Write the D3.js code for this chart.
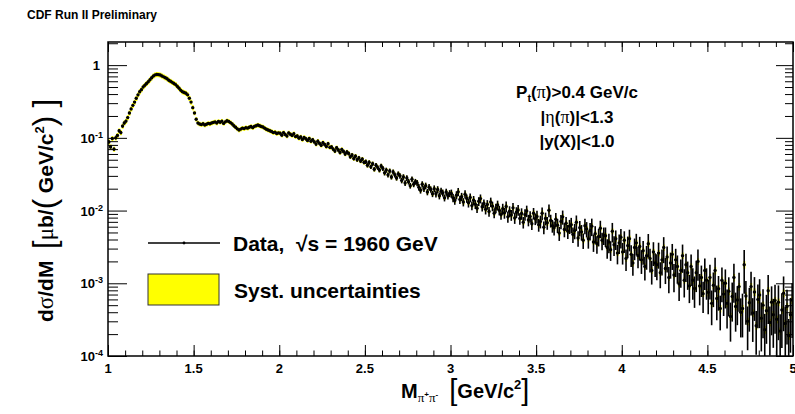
<!DOCTYPE html>
<html>
<head>
<meta charset="utf-8">
<script src="https://cdn.jsdelivr.net/npm/d3@7"></script>
<style>
body { margin: 0; background: #fff; }
svg text { font-family: "Liberation Sans", Arial, Helvetica, sans-serif; font-weight: bold; fill: #000; white-space: pre; }
svg .greek { font-family: "Liberation Serif", "DejaVu Serif", serif; font-weight: normal; }
svg .thin { font-weight: normal; }
</style>
</head>
<body>
<div id="chart"></div>
<script>
// histogram binning (GeV/c^2)
var massLo = 1.0;
var massHi = 5.0;
var binW = 0.01;

var xTicks = [1, 1.5, 2, 2.5, 3, 3.5, 4, 4.5, 5];
var xTickLabels = ["1", "1.5", "2", "2.5", "3", "3.5", "4", "4.5", "5"];
var yDecades = [-4, -3, -2, -1, 0];

// dsigma/dM in ub/(GeV/c^2), one value per 10 MeV bin
var yields = [
  0.088, 0.075, 0.098, 0.07, 0.1, 0.108, 0.125, 0.118, 0.145, 0.16,
  0.17, 0.19, 0.22, 0.25, 0.28, 0.31, 0.35, 0.39, 0.43, 0.46,
  0.5, 0.53, 0.56, 0.59, 0.63, 0.67, 0.71, 0.735, 0.745, 0.74,
  0.73, 0.71, 0.69, 0.67, 0.65, 0.62, 0.6, 0.58, 0.56, 0.54,
  0.51, 0.48, 0.45, 0.43, 0.42, 0.41, 0.39, 0.35, 0.31, 0.26,
  0.22, 0.18, 0.16, 0.155, 0.152, 0.156, 0.15, 0.154, 0.158, 0.156,
  0.16, 0.163, 0.166, 0.16, 0.168, 0.164, 0.17, 0.158, 0.166, 0.172,
  0.168, 0.162, 0.155, 0.147, 0.14, 0.133, 0.128, 0.132, 0.136, 0.134,
  0.138, 0.136, 0.14, 0.143, 0.138, 0.144, 0.147, 0.15, 0.147, 0.143,
  0.141, 0.136, 0.131, 0.128, 0.125, 0.122, 0.118, 0.12, 0.115, 0.117,
  0.116, 0.109, 0.118, 0.111, 0.106, 0.117, 0.112, 0.108, 0.114, 0.104,
  0.106, 0.099, 0.103, 0.095, 0.101, 0.097, 0.092, 0.098, 0.09, 0.094,
  0.088, 0.082, 0.09, 0.084, 0.079, 0.086, 0.081, 0.076, 0.083, 0.074,
  0.075, 0.07, 0.066, 0.073, 0.068, 0.063, 0.069, 0.065, 0.06, 0.064,
  0.061, 0.055, 0.058, 0.052, 0.056, 0.05, 0.053, 0.048, 0.051, 0.046,
  0.047, 0.042, 0.046, 0.04, 0.044, 0.037, 0.042, 0.039, 0.036, 0.041,
  0.038, 0.033, 0.036, 0.031, 0.035, 0.029, 0.034, 0.031, 0.028, 0.032,
  0.03, 0.026, 0.029, 0.024, 0.028, 0.025, 0.022, 0.027, 0.023, 0.025,
  0.024, 0.021, 0.019, 0.023, 0.02, 0.022, 0.018, 0.021, 0.0195, 0.017,
  0.02, 0.017, 0.0195, 0.016, 0.0185, 0.0175, 0.015, 0.018, 0.016, 0.0172,
  0.0172, 0.0149, 0.0138, 0.0163, 0.0181, 0.0142, 0.0155, 0.0131, 0.0168, 0.0147,
  0.0128, 0.0151, 0.0117, 0.0139, 0.0122, 0.0108, 0.0134, 0.0146, 0.0113, 0.0125,
  0.0104, 0.0121, 0.0097, 0.0131, 0.0115, 0.0092, 0.0108, 0.0119, 0.0101, 0.0088,
  0.0106, 0.0093, 0.0114, 0.0082, 0.0098, 0.0087, 0.0109, 0.0079, 0.0095, 0.0102,
  0.0078, 0.0091, 0.0069, 0.0088, 0.0099, 0.0074, 0.0083, 0.0066, 0.0092, 0.0077,
  0.0083, 0.0064, 0.0071, 0.0092, 0.0059, 0.0078, 0.0068, 0.0101, 0.0073, 0.0062,
  0.0058, 0.0076, 0.0063, 0.0049, 0.0071, 0.0082, 0.0055, 0.0067, 0.0052, 0.0061,
  0.0064, 0.0047, 0.0053, 0.0069, 0.0042, 0.0058, 0.0051, 0.0039, 0.0062, 0.0056,
  0.0041, 0.0053, 0.0061, 0.0037, 0.0048, 0.0035, 0.0044, 0.0057, 0.0039, 0.0046,
  0.0045, 0.0031, 0.0037, 0.0029, 0.0052, 0.0034, 0.0041, 0.0026, 0.0036, 0.0043,
  0.0027, 0.0039, 0.0022, 0.0033, 0.0041, 0.0025, 0.0019, 0.0031, 0.0036, 0.0024,
  0.0032, 0.0021, 0.0028, 0.0017, 0.0024, 0.0035, 0.0022, 0.0015, 0.0027, 0.0019,
  0.0018, 0.0026, 0.0014, 0.0021, 0.0031, 0.0016, 0.0023, 0.0012, 0.0019, 0.0025,
  0.0013, 0.0021, 0.0017, 0.00098, 0.0015, 0.0024, 0.0011, 0.0018, 0.0014, 0.00092,
  0.0017, 0.0011, 0.00085, 0.0014, 0.002, 0.00092, 0.0012, 0.00072, 0.0015, 0.0011,
  0.00075, 0.0012, 0.00053, 0.00094, 0.0015, 0.00062, 0.00084, 0.00045, 0.0011, 0.00071,
  0.001, 0.00053, 0.00078, 0.00035, 0.00066, 0.0012, 0.00048, 0.00059, 0.0009, 0.0004,
  0.00045, 0.0018, 0.00067, 0.0003, 0.00054, 0.0009, 0.00039, 0.00076, 0.00026, 0.0006,
  0.00069, 0.00033, 0.0005, 0.00023, 0.00042, 0.00079, 0.00029, 0.00055, 0.00037, 0.00058,
  0.00032, 0.00055, 0.00022, 0.00043, 0.00073, 0.00028, 0.00048, 0.00019, 0.00037, 0.00059
];

// relative stat. error, one entry per 100 MeV
var statRel = [
  0.05, 0.04, 0.03, 0.02, 0.02, 0.03, 0.03, 0.03, 0.03, 0.035,
  0.04, 0.045, 0.05, 0.055, 0.06, 0.07, 0.08, 0.09, 0.1, 0.11,
  0.13, 0.14, 0.15, 0.17, 0.18, 0.2, 0.22, 0.24, 0.27, 0.3,
  0.33, 0.36, 0.39, 0.42, 0.46, 0.5, 0.55, 0.6, 0.65, 0.7
];
// relative syst. error, one entry per 500 MeV
var systRel = [0.08, 0.07, 0.07, 0.07, 0.08, 0.09, 0.1, 0.12];

var W = 795, H = 414;
var padL = 108, padR = 793, padT = 42, padB = 356;

var svg = d3.select("#chart").append("svg")
  .attr("width", W)
  .attr("height", H)
  .style("display", "block");

svg.append("rect").attr("width", W).attr("height", H).attr("fill", "#fff");

var x = d3.scaleLinear().domain([massLo, massHi]).range([padL, padR]);
var y = d3.scaleLog().domain([1e-4, 2.08]).range([padB, padT]);

var bins = yields.map(function(v, i) {
  var lo = massLo + i * binW;
  return {
    lo: lo,
    c: lo + binW / 2,
    v: v,
    st: statRel[Math.floor(i / 10)],
    sy: systRel[Math.floor(i / 50)]
  };
});

svg.append("clipPath").attr("id", "frame")
  .append("rect")
  .attr("x", padL).attr("y", padT)
  .attr("width", padR - padL).attr("height", padB - padT);

var plot = svg.append("g").attr("clip-path", "url(#frame)");

// systematic band
plot.selectAll("rect.syst")
  .data(bins)
  .enter()
  .append("rect")
  .attr("class", "syst")
  .attr("x", function(d) { return x(d.lo); })
  .attr("width", function(d) { return x(d.lo + binW) - x(d.lo) + 0.3; })
  .attr("y", function(d) { return y(d.v * (1 + d.sy)); })
  .attr("height", function(d) { return y(d.v * (1 - d.sy)) - y(d.v * (1 + d.sy)); })
  .attr("fill", "#ffff00");

// stat error bars
plot.selectAll("line.err")
  .data(bins)
  .enter()
  .append("line")
  .attr("class", "err")
  .attr("x1", function(d) { return x(d.c); })
  .attr("x2", function(d) { return x(d.c); })
  .attr("y1", function(d) { return y(d.v * (1 + d.st)); })
  .attr("y2", function(d) { return y(d.v * (1 - d.st)); })
  .attr("stroke", "#000")
  .attr("stroke-width", 1.6);

// points
plot.selectAll("circle.pt")
  .data(bins)
  .enter()
  .append("circle")
  .attr("class", "pt")
  .attr("cx", function(d) { return x(d.c); })
  .attr("cy", function(d) { return y(d.v); })
  .attr("r", 1.7)
  .attr("fill", "#000");

// axes: ticks inside the frame, on all four sides
var minorX = d3.range(10, 51).map(function(k) { return k / 10; });
var minorY = [];
yDecades.forEach(function(e) {
  for (var k = 2; k <= 9; k++) {
    var v = k * Math.pow(10, e);
    if (v <= 2.08) minorY.push(v);
  }
});
var majorY = yDecades.map(function(e) { return Math.pow(10, e); });

function addAxis(axis, tx, ty) {
  var g = svg.append("g")
    .attr("transform", "translate(" + tx + "," + ty + ")")
    .call(axis);
  g.select(".domain").remove();
  g.selectAll("text").remove();
  g.selectAll("line").attr("stroke", "#000").attr("stroke-width", 1);
  return g;
}

addAxis(d3.axisBottom(x).tickValues(minorX).tickSize(-5.5), 0, padB);
addAxis(d3.axisBottom(x).tickValues(xTicks).tickSize(-11), 0, padB);
addAxis(d3.axisTop(x).tickValues(minorX).tickSize(-5), 0, padT);
addAxis(d3.axisTop(x).tickValues(xTicks).tickSize(-10), 0, padT);
addAxis(d3.axisLeft(y).tickValues(minorY).tickSize(-10), padL, 0);
addAxis(d3.axisLeft(y).tickValues(majorY).tickSize(-19), padL, 0);
addAxis(d3.axisRight(y).tickValues(minorY).tickSize(-8), padR, 0);
addAxis(d3.axisRight(y).tickValues(majorY).tickSize(-17), padR, 0);

svg.append("rect")
  .attr("x", padL).attr("y", padT)
  .attr("width", padR - padL).attr("height", padB - padT)
  .attr("fill", "none")
  .attr("stroke", "#000")
  .attr("stroke-width", 1.5);

// x tick labels
svg.selectAll("text.xt")
  .data(xTicks)
  .enter()
  .append("text")
  .attr("class", "xt")
  .attr("x", function(d) { return x(d); })
  .attr("y", 373)
  .attr("text-anchor", "middle")
  .attr("font-size", 13)
  .text(function(d, i) { return xTickLabels[i]; });

// y tick labels (10^n)
yDecades.forEach(function(e) {
  var t = svg.append("text")
    .attr("x", e == 0 ? 100 : 103)
    .attr("y", y(Math.pow(10, e)) + 5)
    .attr("text-anchor", "end")
    .attr("font-size", 13);
  if (e == 0) {
    t.text("1");
  } else {
    t.append("tspan").text("10");
    t.append("tspan").attr("font-size", 9).attr("dy", -5).text("-" + (-e));
  }
});

// title
svg.append("text")
  .attr("x", 27).attr("y", 19)
  .attr("font-size", 12)
  .text("CDF Run II Preliminary");

// y axis title
var yt = svg.append("text")
  .attr("transform", "translate(53,322) rotate(-90)")
  .attr("font-size", 21);
yt.append("tspan").text("d");
yt.append("tspan").attr("class", "greek").attr("font-size", 23).text("σ");
yt.append("tspan").text("/dM  ");
yt.append("tspan").attr("class", "thin").attr("font-size", 31).attr("dy", 2).text("[");
yt.append("tspan").attr("class", "greek").attr("font-size", 23).attr("dy", -2).text("μ");
yt.append("tspan").text("b/");
yt.append("tspan").attr("class", "thin").attr("font-size", 31).attr("dy", 2).text("(");
yt.append("tspan").attr("dy", -2).text(" GeV/c");
yt.append("tspan").attr("font-size", 13).attr("dy", -9).text("2");
yt.append("tspan").attr("class", "thin").attr("font-size", 31).attr("dy", 11).text(")");
yt.append("tspan").attr("class", "thin").attr("font-size", 31).text(" ]");

// x axis title
var xt = svg.append("text")
  .attr("x", 401).attr("y", 398)
  .attr("font-size", 20);
xt.append("tspan").text("M");
xt.append("tspan").attr("class", "greek").attr("font-size", 13).attr("dy", 4).text("π");
xt.append("tspan").attr("font-size", 8).attr("dy", -5).text("+");
xt.append("tspan").attr("class", "greek").attr("font-size", 13).attr("dy", 5).text("π");
xt.append("tspan").attr("font-size", 8).attr("dy", -5).text("-");
xt.append("tspan").attr("dy", 1).text("  ");
xt.append("tspan").attr("class", "thin").attr("font-size", 29).attr("dy", 2).text("[");
xt.append("tspan").attr("dy", -2).text("GeV/c");
xt.append("tspan").attr("font-size", 13).attr("dy", -9).text("2");
xt.append("tspan").attr("class", "thin").attr("font-size", 29).attr("dy", 11).text("]");

// cuts
var cx = 577;
var c1 = svg.append("text").attr("x", cx).attr("y", 98).attr("text-anchor", "middle").attr("font-size", 17);
c1.append("tspan").text("P");
c1.append("tspan").attr("font-size", 11).attr("dy", 4).text("t");
c1.append("tspan").attr("dy", -4).text("(");
c1.append("tspan").attr("class", "greek").attr("font-size", 18).text("π");
c1.append("tspan").text(")>0.4 GeV/c");

var c2 = svg.append("text").attr("x", cx).attr("y", 123).attr("text-anchor", "middle").attr("font-size", 17);
c2.append("tspan").text("|");
c2.append("tspan").attr("class", "greek").attr("font-size", 18).text("η");
c2.append("tspan").text("(");
c2.append("tspan").attr("class", "greek").attr("font-size", 18).text("π");
c2.append("tspan").text(")|<1.3");

svg.append("text").attr("x", cx).attr("y", 147).attr("text-anchor", "middle").attr("font-size", 17)
  .text("|y(X)|<1.0");

// legend
svg.append("line")
  .attr("x1", 148).attr("x2", 220).attr("y1", 243).attr("y2", 243)
  .attr("stroke", "#000").attr("stroke-width", 1.5);
svg.append("circle").attr("cx", 184).attr("cy", 243).attr("r", 1.4).attr("fill", "#000");
svg.append("text").attr("x", 233).attr("y", 251).attr("font-size", 21)
  .text("Data,  √s = 1960 GeV");

svg.append("rect")
  .attr("x", 148).attr("y", 274).attr("width", 71).attr("height", 31)
  .attr("fill", "#ffff00").attr("stroke", "#333").attr("stroke-width", 1);
svg.append("text").attr("x", 234).attr("y", 298).attr("font-size", 21)
  .text("Syst. uncertainties");
</script>
</body>
</html>
